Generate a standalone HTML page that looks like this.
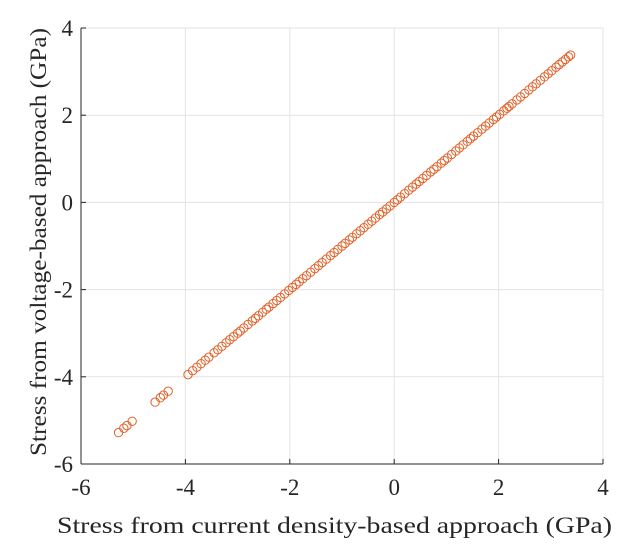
<!DOCTYPE html>
<html><head><meta charset="utf-8"><style>
html,body{margin:0;padding:0;background:#fff;}
svg{display:block;font-family:"Liberation Serif",serif;}
</style></head><body>
<svg id="chart" width="622" height="548">
<g id="grid"></g>
<g id="axes"></g>
<g id="points"></g>
<text x="57" y="533" textLength="555" lengthAdjust="spacingAndGlyphs" font-size="23" fill="#262626">Stress from current density-based approach (GPa)</text>
<text transform="translate(46,456) rotate(-90)" textLength="428" lengthAdjust="spacingAndGlyphs" font-size="23" fill="#262626">Stress from voltage-based approach (GPa)</text>
</svg>
<script>
const xTicks=[-6,-4,-2,0,2,4];
const yTicks=[-6,-4,-2,0,2,4];
const xVals=[-5.28,-5.18,-5.12,-5.02,-4.58,-4.48,-4.42,-4.33,-3.95,-3.86,-3.78,-3.7,-3.62,-3.55,-3.45,-3.38,-3.3,-3.22,-3.15,-3.08,-3.0,-2.95,-2.88,-2.8,-2.72,-2.66,-2.6,-2.52,-2.45,-2.4,-2.32,-2.25,-2.18,-2.1,-2.02,-1.95,-1.88,-1.82,-1.75,-1.68,-1.6,-1.52,-1.45,-1.38,-1.3,-1.22,-1.15,-1.08,-1.0,-0.94,-0.86,-0.8,-0.72,-0.65,-0.58,-0.5,-0.43,-0.36,-0.28,-0.22,-0.15,-0.08,0.0,0.06,0.12,0.2,0.28,0.35,0.42,0.48,0.55,0.62,0.7,0.76,0.82,0.9,0.96,1.02,1.1,1.18,1.25,1.32,1.4,1.46,1.52,1.6,1.68,1.75,1.82,1.9,1.96,2.02,2.1,2.16,2.2,2.26,2.35,2.42,2.5,2.58,2.65,2.72,2.8,2.88,2.95,3.02,3.1,3.16,3.22,3.28,3.34,3.38];
const yVals=[-5.28,-5.18,-5.12,-5.02,-4.58,-4.48,-4.42,-4.33,-3.95,-3.86,-3.78,-3.7,-3.62,-3.55,-3.45,-3.38,-3.3,-3.22,-3.15,-3.08,-3.0,-2.95,-2.88,-2.8,-2.72,-2.66,-2.6,-2.52,-2.45,-2.4,-2.32,-2.25,-2.18,-2.1,-2.02,-1.95,-1.88,-1.82,-1.75,-1.68,-1.6,-1.52,-1.45,-1.38,-1.3,-1.22,-1.15,-1.08,-1.0,-0.94,-0.86,-0.8,-0.72,-0.65,-0.58,-0.5,-0.43,-0.36,-0.28,-0.22,-0.15,-0.08,0.0,0.06,0.12,0.2,0.28,0.35,0.42,0.48,0.55,0.62,0.7,0.76,0.82,0.9,0.96,1.02,1.1,1.18,1.25,1.32,1.4,1.46,1.52,1.6,1.68,1.75,1.82,1.9,1.96,2.02,2.1,2.16,2.2,2.26,2.35,2.42,2.5,2.58,2.65,2.72,2.8,2.88,2.95,3.02,3.1,3.16,3.22,3.28,3.34,3.38];
const L=81,R=603,T=28,B=464;
function sx(v){return L+(v+6)/10*(R-L);}
function sy(v){return B-(v+6)/10*(B-T);}
const NS="http://www.w3.org/2000/svg";
function mk(tag,parent,attrs){const e=document.createElementNS(NS,tag);for(const k in attrs)e.setAttribute(k,attrs[k]);parent.appendChild(e);return e;}
const grid=document.getElementById('grid'),axes=document.getElementById('axes'),pts=document.getElementById('points');
xTicks.forEach(t=>{
  const g=mk('line',grid,{x1:sx(t),x2:sx(t),y1:T,y2:B,stroke:'#e3e3e3','stroke-width':1});
  
  
  const tk=mk('line',axes,{x1:sx(t),x2:sx(t),y1:B,y2:B-5,stroke:'#262626','stroke-width':1});
  
  
  const lb=mk('text',axes,{x:sx(t),y:B+31,'text-anchor':'middle','font-size':23,fill:'#262626'});
  lb.textContent=t;
  
  
});
yTicks.forEach(t=>{
  const g=mk('line',grid,{x1:L,x2:R,y1:sy(t),y2:sy(t),stroke:'#e3e3e3','stroke-width':1});
  
  
  const tk=mk('line',axes,{x1:L,x2:L+5,y1:sy(t),y2:sy(t),stroke:'#262626','stroke-width':1});
  
  
  const lb=mk('text',axes,{x:L-8,y:sy(t)+8,'text-anchor':'end','font-size':23,fill:'#262626'});
  lb.textContent=t;
  
  
});
const xa=mk('line',axes,{x1:L,x2:R,y1:B,y2:B,stroke:'#262626','stroke-width':1});


const ya=mk('line',axes,{x1:L,x2:L,y1:T,y2:B,stroke:'#262626','stroke-width':1});


xVals.forEach((v,i)=>{
  const c=mk('circle',pts,{cx:sx(v),cy:sy(yVals[i]),r:4.2,fill:'none',stroke:'#e0622a','stroke-width':1});
  
  
});
</script>
</body></html>
